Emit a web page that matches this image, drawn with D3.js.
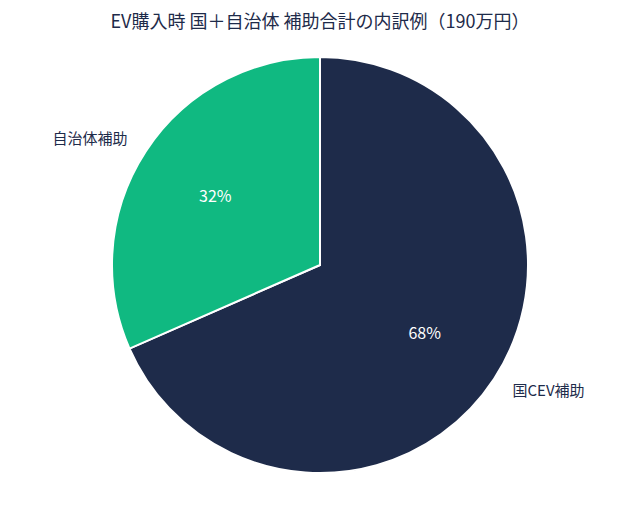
<!DOCTYPE html>
<html><head><meta charset="utf-8">
<script src="https://cdn.jsdelivr.net/npm/d3@7"></script>
<style>body{margin:0;background:#fff;font-family:"Noto Sans CJK JP","Noto Sans",sans-serif;}</style>
</head><body><svg id="c" width="640" height="507"></svg>
<script>
const categories = ["国CEV補助", "自治体補助"];
const values = [130, 60];
const colors = ["#1e2b4a", "#10b981"];
const title = "EV購入時 国＋自治体 補助合計の内訳例（190万円）";

const svg = d3.select("#c");
const cx = 320, cy = 265, R = 208;
svg.append("text").attr("x", 320).attr("y", 28).attr("text-anchor", "middle")
  .attr("font-size", 18).attr("fill", "#1e2b4a").text(title);
const total = d3.sum(values);
const arcs = d3.pie().sort(null)(values);
const g = svg.append("g").attr("transform", `translate(${cx},${cy})`);
const arc = d3.arc().innerRadius(0).outerRadius(R);
g.selectAll("path").data(arcs).join("path").attr("d", arc)
  .attr("fill", (d, i) => colors[i]).attr("stroke", "#fff").attr("stroke-width", 2);
const inner = d3.arc().innerRadius(125).outerRadius(125);
g.selectAll("text.p").data(arcs).join("text").attr("class", "p")
  .attr("transform", d => `translate(${inner.centroid(d)})`)
  .attr("text-anchor", "middle").attr("dy", "0.35em").attr("font-size", 16).attr("fill", "#fff")
  .text(d => Math.round(d.data / total * 100) + "%");
const outer = d3.arc().innerRadius(230).outerRadius(230);
g.selectAll("text.l").data(arcs).join("text").attr("class", "l")
  .attr("transform", d => `translate(${outer.centroid(d)})`)
  .attr("text-anchor", d => ((d.startAngle + d.endAngle) / 2 < Math.PI) ? "start" : "end")
  .attr("dy", "0.35em").attr("font-size", 15).attr("fill", "#1e2b4a")
  .text((d, i) => categories[i]);
</script></body></html>
